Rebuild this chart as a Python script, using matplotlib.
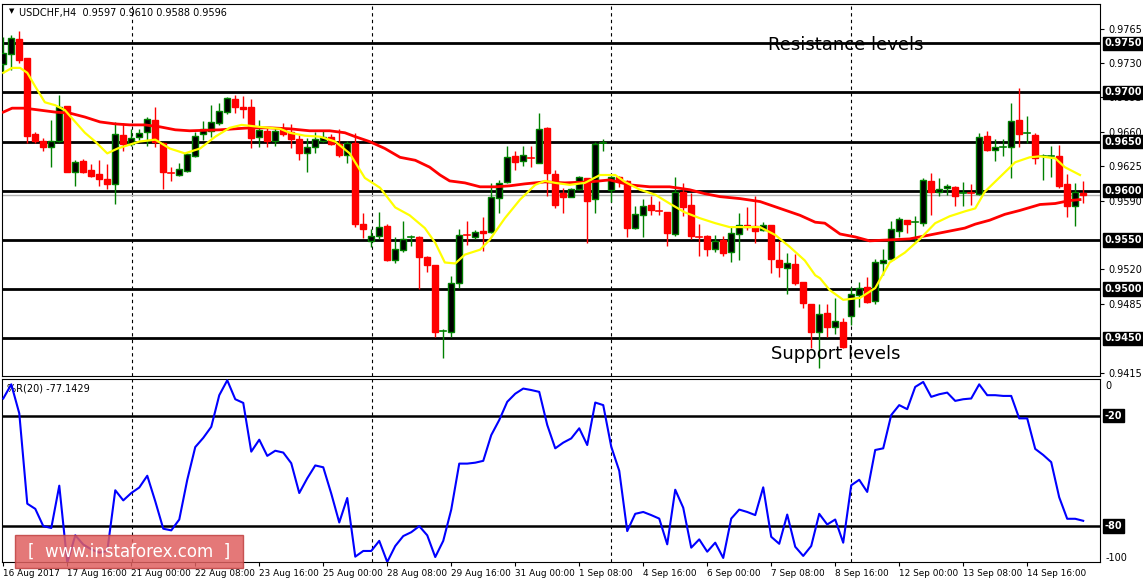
import matplotlib
matplotlib.use("Agg")
import matplotlib.pyplot as plt
from matplotlib.patches import Rectangle

opens = [.9729,.9739,.9754,.9735,.9658,.9651,.9645,.9651,.9686,.9619,.9630,.9621,.9617,.9612,.9607,.9657,.9648,.9655,.9660,.9672,
 .9649,.9619,.9616,.9620,.9635,.9658,.9661,.9669,.9680,.9693,.9685,.9685,.9655,.9661,.9651,.9663,.9660,.9653,.9638,.9645,
 .9651,.9655,.9648,.9636,.9649,.9566,.9549,.9554,.9564,.9530,.9540,.9552,.9553,.9533,.9524,.9456,.9456,.9506,.9556,.9553,
 .9559,.9558,.9593,.9609,.9635,.9630,.9634,.9628,.9664,.9617,.9598,.9594,.9602,.9613,.9592,.9648,.9601,.9614,.9610,.9562,
 .9575,.9585,.9580,.9578,.9556,.9599,.9585,.9554,.9554,.9541,.9550,.9538,.9556,.9565,.9564,.9560,.9565,.9530,.9521,.9525,
 .9507,.9485,.9456,.9476,.9461,.9466,.9473,.9494,.9502,.9488,.9526,.9531,.9559,.9570,.9567,.9567,.9610,.9599,.9603,.9604,
 .9597,.9599,.9597,.9656,.9641,.9644,.9645,.9672,.9658,.9657,.9634,.9634,.9635,.9607,.9584,.9598]
highs = [.9756,.9758,.9763,.9735,.9660,.9654,.9672,.9697,.9686,.9631,.9632,.9627,.9631,.9627,.9670,.9669,.9663,.9663,.9675,.9685,
 .9650,.9624,.9628,.9638,.9660,.9671,.9687,.9689,.9695,.9697,.9696,.9693,.9672,.9664,.9664,.9669,.9668,.9657,.9654,.9660,
 .9661,.9658,.9663,.9651,.9659,.9577,.9561,.9578,.9566,.9553,.9569,.9555,.9554,.9534,.9524,.9459,.9513,.9561,.9569,.9560,
 .9573,.9608,.9611,.9646,.9640,.9646,.9646,.9679,.9665,.9621,.9603,.9603,.9615,.9613,.9650,.9653,.9615,.9615,.9611,.9584,
 .9592,.9595,.9590,.9578,.9614,.9608,.9598,.9566,.9555,.9555,.9554,.9563,.9577,.9583,.9595,.9568,.9565,.9549,.9537,.9536,
 .9507,.9485,.9485,.9485,.9491,.9471,.9502,.9507,.9512,.9531,.9541,.9569,.9573,.9570,.9574,.9613,.9618,.9613,.9607,.9605,
 .9609,.9607,.9659,.9661,.9653,.9653,.9689,.9705,.9676,.9659,.9637,.9646,.9647,.9617,.9608,.9610]
lows = [.9720,.9723,.9730,.9649,.9649,.9640,.9624,.9650,.9619,.9605,.9618,.9614,.9605,.9602,.9587,.9640,.9646,.9652,.9646,.9644,
 .9602,.9610,.9615,.9619,.9634,.9652,.9655,.9667,.9678,.9679,.9674,.9643,.9644,.9645,.9646,.9656,.9643,.9631,.9619,.9638,
 .9650,.9647,.9634,.9628,.9563,.9552,.9543,.9551,.9529,.9526,.9538,.9544,.9500,.9517,.9451,.9430,.9451,.9501,.9545,.9551,
 .9539,.9557,.9577,.9608,.9621,.9625,.9624,.9628,.9595,.9582,.9577,.9594,.9601,.9547,.9577,.9640,.9589,.9604,.9553,.9561,
 .9553,.9575,.9575,.9544,.9554,.9574,.9551,.9534,.9534,.9538,.9534,.9528,.9530,.9560,.9547,.9559,.9516,.9512,.9495,.9504,
 .9481,.9440,.9420,.9451,.9454,.9440,.9463,.9482,.9486,.9485,.9514,.9530,.9553,.9557,.9547,.9564,.9575,.9595,.9596,.9584,
 .9584,.9585,.9596,.9640,.9630,.9635,.9613,.9645,.9649,.9627,.9611,.9614,.9603,.9573,.9564,.9588]
closes = [.9740,.9755,.9733,.9656,.9651,.9645,.9651,.9685,.9619,.9629,.9619,.9615,.9612,.9607,.9658,.9648,.9654,.9659,.9673,.9650,
 .9619,.9618,.9622,.9637,.9656,.9663,.9670,.9681,.9694,.9685,.9683,.9654,.9662,.9651,.9661,.9658,.9653,.9638,.9644,.9653,
 .9655,.9648,.9636,.9649,.9566,.9561,.9554,.9563,.9530,.9541,.9551,.9553,.9533,.9524,.9456,.9457,.9506,.9555,.9555,.9558,
 .9557,.9594,.9608,.9634,.9629,.9636,.9633,.9663,.9618,.9585,.9594,.9602,.9614,.9590,.9648,.9649,.9614,.9610,.9562,.9576,
 .9584,.9580,.9579,.9557,.9599,.9583,.9554,.9553,.9541,.9549,.9537,.9557,.9565,.9563,.9559,.9565,.9531,.9522,.9526,.9506,
 .9486,.9456,.9475,.9461,.9467,.9441,.9495,.9501,.9487,.9527,.9530,.9561,.9571,.9566,.9568,.9611,.9599,.9602,.9605,.9595,
 .9598,.9598,.9655,.9641,.9645,.9645,.9671,.9658,.9659,.9633,.9635,.9635,.9605,.9584,.9599,.9596]

ma_fast_x = [0,1.1,2.1,3,4,5.2,6.5,7.7,9,10.2,11.5,13,14.3,17,19,20.8,22.7,24.6,26.5,28.3,29.8,32,34.6,35.8,37.7,39.6,41.5,43.3,
 45.2,47.1,49,50.8,52.7,54,55.2,56.5,57.7,59.6,60.8,62.7,64.6,66.5,67.7,69,70.8,72.7,74.6,76.5,77.7,79.6,81.5,83.3,85.2,87.1,
 89,90.8,92.7,94.6,96.5,98.3,100.2,101.5,102.1,103.3,105,107.1,109,110.8,112.7,114.6,116.5,118.3,120.2,121.5,122.7,124.6,
 126.5,128.3,129.6,131.5,132.7,134.6]
ma_fast = [.9720,.9725,.9725,.9720,.9706,.9690,.9687,.9682,.9670,.9659,.9650,.9638,.9643,.9650,.9652,.9643,.9638,.9643,.9655,.9664,
 .9667,.9665,.9663,.9659,.9656,.9655,.9650,.9638,.9613,.9603,.9583,.9575,.9562,.9547,.9527,.9526,.9535,.9540,.9550,.9572,
 .9591,.9606,.9610,.9608,.9606,.9608,.9616,.9616,.9609,.9601,.9596,.9587,.9578,.9572,.9567,.9563,.9563,.9563,.9555,.9543,
 .9529,.9514,.9511,.9499,.9489,.9491,.9501,.9527,.9537,.9551,.9567,.9574,.9579,.9582,.9599,.9614,.9629,.9634,.9635,.9633,
 .9624,.9616]
ma_slow_x = [0,1.1,2.7,4.6,6.5,8.3,10.2,12.1,14,15.8,17.7,19.6,21.5,23.3,27.1,30.8,33.3,35.8,38.3,40.8,42.7,44,45.8,47.7,49.6,
 51.5,53.3,54.6,55.8,57.7,59.6,61.5,63.3,65.2,67.7,70.2,73.3,75.8,78.3,80.8,83.3,85.8,87.7,89.6,92.1,94.6,97.1,99.6,101.5,
 102.7,104.6,106.5,108.3,110.8,113.3,115.2,117.7,120.2,121.5,123.3,125.2,127.1,129.6,131.5,133.3,134.6]
ma_slow = [.9680,.9684,.9684,.9682,.9680,.9679,.9675,.9670,.9668,.9667,.9667,.9665,.9662,.9661,.9662,.9664,.9664,.9663,.9661,.9661,
 .9659,.9655,.9650,.9643,.9634,.9631,.9624,.9616,.9610,.9608,.9604,.9604,.9605,.9607,.9609,.9608,.9609,.9611,.9606,.9604,
 .9604,.9601,.9597,.9594,.9592,.9589,.9582,.9575,.9568,.9567,.9556,.9553,.9549,.9550,.9551,.9554,.9558,.9562,.9566,.9570,
 .9576,.9580,.9586,.9587,.9590,.9591]
wpr = [-10.6,-2.9,-18.7,-67.8,-70.6,-80,-81,-58,-100,-85,-90,-92.6,-94.4,-93.5,-60.5,-66,-62,-59,-52.6,-66.5,
 -81.4,-82.3,-76.4,-54.8,-37,-32,-26,-8.8,-0.7,-11,-13,-39.5,-33,-41.8,-39,-40,-45.8,-62,-54,-47,
 -48,-62.3,-78,-64.7,-96.6,-93.5,-93.5,-88,-99.5,-90.8,-85.4,-83.3,-80,-85,-96.8,-88,-71,-46,-46,-45.5,
 -44.5,-30.5,-22.3,-12.4,-8,-5.2,-6,-7,-25,-37.7,-34.6,-32.3,-26.8,-35.9,-12.8,-14.2,-36.8,-49.9,-82.7,-73.3,
 -72.3,-74,-75.9,-89.9,-60.2,-70,-91.7,-87.2,-93.9,-89,-97.3,-75.9,-71,-72.3,-74,-58.9,-85.8,-89.6,-73.7,-91.2,
 -96.2,-90.8,-73.3,-79.1,-76.4,-89,-57.8,-54.8,-61.4,-38.6,-37.7,-19.6,-14.2,-16.4,-4.3,-1.6,-9.7,-8.3,-7.4,-11.9,
 -11,-10.6,-2.9,-8.8,-8.8,-9.2,-9.2,-21.4,-21.4,-38,-41.3,-45.2,-64.3,-76,-76,-77.1]

levels = [0.9750, 0.9700, 0.9650, 0.9600, 0.9550, 0.9500, 0.9450]
price_ticks = [0.9765, 0.9730, 0.9695, 0.9660, 0.9625, 0.9590, 0.9520, 0.9485, 0.9415]
date_labels = ["16 Aug 2017","17 Aug 16:00","21 Aug 00:00","22 Aug 08:00","23 Aug 16:00","25 Aug 00:00",
 "28 Aug 08:00","29 Aug 16:00","31 Aug 00:00","1 Sep 08:00","4 Sep 16:00","6 Sep 00:00","7 Sep 08:00",
 "8 Sep 16:00","12 Sep 00:00","13 Sep 08:00","14 Sep 16:00"]
day_separators = [16.1, 46.1, 76, 106]
last_price = 0.9596

W, H = 1143, 585
fig = plt.figure(figsize=(W/100, H/100), dpi=100)
L = 2/W; Wd = 1098/W
ax = fig.add_axes([L, 1-376/H, Wd, 372/H])
ax2 = fig.add_axes([L, 1-562/H, Wd, 183/H])
xl = (-0.16, 137.1)
FS = 7
GREEN = "#008000"

for i in range(len(opens)):
    o, h, lo, c = opens[i], highs[i], lows[i], closes[i]
    bull = c >= o
    wc = GREEN if bull else "#ff0000"
    ax.plot([i, i], [lo, h], color=wc, lw=1, zorder=3, solid_capstyle="butt")
    bot, top = min(o, c), max(o, c)
    if top - bot < 0.00012:
        ax.plot([i-0.38, i+0.38], [c, c], color=wc, lw=1.2, zorder=4)
    else:
        ax.add_patch(Rectangle((i-0.36, bot), 0.72, top-bot,
                               facecolor="black" if bull else "#ff0000",
                               edgecolor=GREEN if bull else "#ff0000", lw=1, zorder=4))

ax.plot(ma_slow_x, ma_slow, color="#ff0000", lw=2, zorder=5)
ax.plot(ma_fast_x, ma_fast, color="#ffff00", lw=1.6, zorder=5)
for lv in levels:
    ax.axhline(lv, color="black", lw=2, zorder=2)
ax.axhline(last_price, color="#b0b0b0", lw=1, zorder=1.5)
for a in (ax, ax2):
    for d in day_separators:
        a.axvline(d, color="black", lw=0.8, ls=(0, (3, 3)), zorder=1)
    a.set_xlim(*xl)
    for s in a.spines.values():
        s.set_linewidth(0.8)

ax.set_ylim(0.94115, 0.9790)
ax.yaxis.tick_right()
ax.set_yticks(price_ticks)
ax.set_yticklabels([f"{t:.4f}" for t in price_ticks])
ax.tick_params(axis="y", labelsize=FS, length=3, pad=3)
ax.set_xticks([])
for lv in levels:
    ax.text(1.004, lv, f"{lv:.4f}", transform=ax.get_yaxis_transform(), fontsize=FS, color="white",
            fontweight="bold", va="center", ha="left", zorder=10, clip_on=False,
            bbox=dict(facecolor="black", edgecolor="black", pad=1.2))
ax.text(7/1098, 0.988, "\u25bc", transform=ax.transAxes, fontsize=5, va="top")
ax.text(17/1098, 0.988, "USDCHF,H4  0.9597 0.9610 0.9588 0.9596", transform=ax.transAxes, fontsize=FS, va="top")
ax.text(95.6, 0.9748, "Resistance levels", fontsize=13, va="center", ha="left", zorder=8)
ax.text(96.0, 0.9434, "Support levels", fontsize=13, va="center", ha="left", zorder=8)

ax2.plot(range(len(wpr)), wpr, color="#0000ff", lw=1.5, zorder=4)
ax2.axhline(-20, color="black", lw=1.8, zorder=2)
ax2.axhline(-80, color="black", lw=1.8, zorder=2)
ax2.set_ylim(-99.5, 0)
ax2.yaxis.tick_right()
ax2.set_yticks([-3, -97])
ax2.set_yticklabels(["0", "-100"])
ax2.tick_params(axis="y", labelsize=FS, length=0, pad=4)
for v in (-20, -80):
    ax2.text(1.004, v, f"{v}", transform=ax2.get_yaxis_transform(), fontsize=FS, color="white",
             fontweight="bold", va="center", ha="left", zorder=10, clip_on=False,
             bbox=dict(facecolor="black", edgecolor="black", pad=1.2))
ax2.text(5/1098, 0.975, "%R(20) -77.1429", transform=ax2.transAxes, fontsize=FS, va="top")
ax2.set_xticks([8*k for k in range(len(date_labels))])
ax2.set_xticklabels(date_labels, ha="left")
ax2.tick_params(axis="x", labelsize=6.4, length=3, pad=2)

fig.patches.append(Rectangle((15/W, 1-568/H), 228/W, 33/H, transform=fig.transFigure,
                             facecolor="#e06060", edgecolor="#c04040", alpha=0.85, zorder=20))
fig.text(129/W, 1-552/H, "[  www.instaforex.com  ]", color="white", fontsize=12,
         ha="center", va="center", zorder=21)

fig.savefig("out.png", dpi=100)
